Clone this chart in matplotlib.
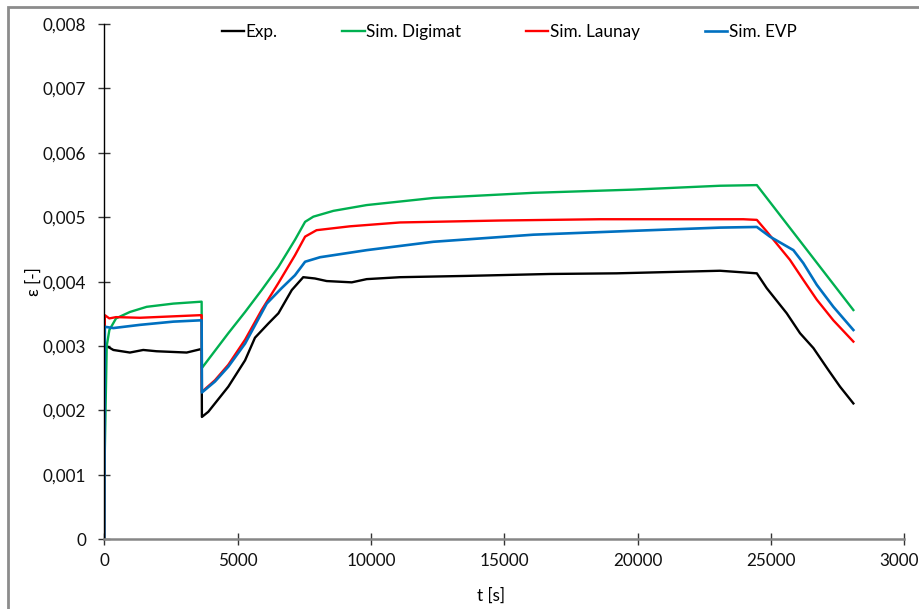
import matplotlib
matplotlib.use("Agg")
import matplotlib.pyplot as plt
from matplotlib.patches import Rectangle
from matplotlib.ticker import FuncFormatter, MultipleLocator

plt.rcParams['font.family'] = ['Lato', 'DejaVu Sans']

# values (t in s, strain in -)
t_exp = [90, 340, 960, 1460, 1960, 3090, 3590, 3650, 3660, 3900, 4650, 5280, 5650,
         6150, 6530, 7030, 7460, 7900, 8340, 9280, 9840, 11090, 13590, 16710, 19210,
         23090, 24470, 24840, 25590, 26090, 26590, 27150, 27590, 28090]
eps_exp = [0.00300, 0.00294, 0.00290, 0.00294, 0.00292, 0.00290, 0.00295, 0.00295,
           0.00190, 0.00198, 0.00237, 0.00278, 0.00313, 0.00335, 0.00351, 0.00387,
           0.00407, 0.00405, 0.00401, 0.00399, 0.00404, 0.00407, 0.00409, 0.00412,
           0.00413, 0.00417, 0.00413, 0.00390, 0.00351, 0.00320, 0.00297, 0.00263,
           0.00237, 0.00211]

t_dig = [0, 20, 90, 190, 440, 960, 1590, 2590, 3650, 3660, 4650, 5280, 5900, 6530,
         7150, 7530, 7840, 8590, 9840, 12340, 16090, 19840, 23090, 24470, 28090]
eps_dig = [0.0, 0.00139, 0.00300, 0.00325, 0.00343, 0.00353, 0.00361, 0.00366, 0.00369,
           0.00266, 0.00320, 0.00353, 0.00387, 0.00423, 0.00465, 0.00493, 0.00501,
           0.00510, 0.00519, 0.00530, 0.00538, 0.00543, 0.00549, 0.00550, 0.00356]

t_lau = [0, 20, 190, 440, 1340, 3590, 3650, 3660, 4150, 4650, 5280, 5900, 6530, 7150,
         7530, 7960, 9210, 11090, 14840, 18590, 23960, 24470, 24840, 25710, 26210,
         26720, 27340, 28090]
eps_lau = [0.0, 0.00348, 0.00343, 0.00345, 0.00344, 0.00348, 0.00348, 0.00229,
           0.00247, 0.00271, 0.00310, 0.00356, 0.00398, 0.00441, 0.00470, 0.00480,
           0.00486, 0.00492, 0.00495, 0.00497, 0.00497, 0.00496, 0.00478, 0.00434,
           0.00403, 0.00372, 0.00340, 0.00307]

t_evp = [0, 20, 340, 1340, 2590, 3590, 3650, 3660, 4150, 4650, 5280, 6090, 6650, 7150,
         7530, 8090, 9840, 12340, 16090, 19840, 23090, 24470, 24960, 25840, 26210,
         26720, 27340, 28090]
eps_evp = [0.0, 0.00330, 0.00328, 0.00333, 0.00338, 0.00340, 0.00340, 0.00228,
           0.00245, 0.00268, 0.00304, 0.00366, 0.00390, 0.00410, 0.00431, 0.00438,
           0.00449, 0.00462, 0.00473, 0.00479, 0.00484, 0.00485, 0.00470, 0.00449,
           0.00429, 0.00395, 0.00361, 0.00325]

fig = plt.figure(figsize=(9.2, 6.09), dpi=100)
ax = fig.add_axes([104.3 / 920, (609 - 539.3) / 609, 800 / 920, 515.2 / 609])

ax.plot(t_exp, eps_exp, color='black', lw=1.7, label='Exp.')
ax.plot(t_dig, eps_dig, color='#00B050', lw=1.7, label='Sim. Digimat')
ax.plot(t_lau, eps_lau, color='#FF0000', lw=1.7, label='Sim. Launay')
ax.plot(t_evp, eps_evp, color='#0070C0', lw=1.9, label='Sim. EVP')

ax.set_xlim(0, 30000)
ax.set_ylim(0, 0.008)
ax.xaxis.set_major_locator(MultipleLocator(5000))
ax.yaxis.set_major_locator(MultipleLocator(0.001))
ax.yaxis.set_major_formatter(FuncFormatter(
    lambda v, p: '0' if abs(v) < 1e-12 else f'{v:.3f}'.replace('.', ',')))
ax.xaxis.set_major_formatter(FuncFormatter(lambda v, p: f'{v:.0f}'))

for s in ['top', 'right']:
    ax.spines[s].set_visible(False)
ax.spines['left'].set_color('black')
ax.spines['left'].set_linewidth(1.0)
ax.spines['bottom'].set_color('#868686')
ax.spines['bottom'].set_linewidth(1.8)
ax.tick_params(axis='both', direction='inout', length=8, width=1.0, color='#333333',
               labelsize=12.3, labelcolor='#111111')
ax.tick_params(axis='y', pad=9)
ax.tick_params(axis='x', pad=6)

ax.set_xlabel('t [s]', fontsize=12.3)
ax.set_ylabel('ε [-]', fontsize=12.3)
ax.xaxis.set_label_coords((491 - 104.3) / 800, -0.093)
ax.yaxis.set_label_coords(-0.078, 0.5)

ax.legend(loc='center', bbox_to_anchor=(0.506, 0.985), ncol=4, frameon=False,
          fontsize=12.3, handlelength=1.3, handletextpad=0.1, columnspacing=3.8)

fig.patches.append(Rectangle((8 / 920, -0.1), 1.2, 1.1 - 7 / 609, transform=fig.transFigure,
                             fill=False, edgecolor='#8c8c8c', lw=2))

fig.savefig('out.png', dpi=100)
